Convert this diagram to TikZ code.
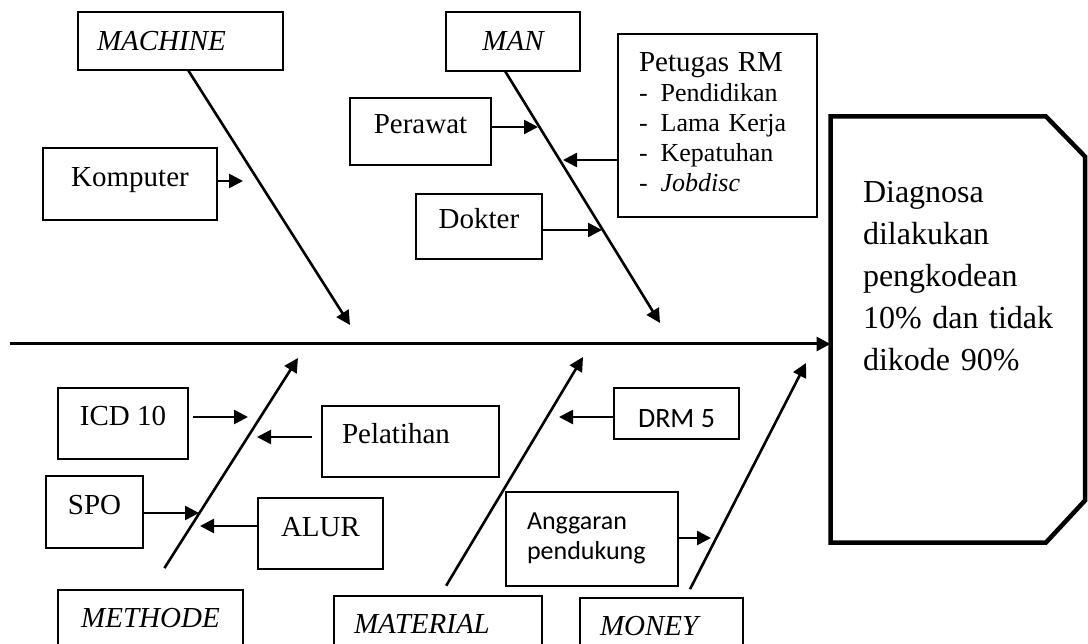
\documentclass[tikz,border=0pt]{standalone}
\usepackage{fontspec}
\setmainfont{Liberation Serif}
\newfontfamily\calibri{Carlito}
\usetikzlibrary{arrows.meta}
\tikzset{
    box/.style={
        rectangle,
        draw=black,
        line width=1.4pt,
        outer sep=0pt,
        inner ysep=3pt,
        anchor=north west,
        font=\fontsize{29}{33}\selectfont,
        text height=19pt,
        text depth=14pt
    },
    catbox/.style={
        box,
        font=\fontsize{29}{33}\selectfont\itshape
    },
    arrow/.style={
        -{Triangle[length=14pt,width=14pt]},
        line width=2.6pt
    },
    bone/.style={
        arrow,
        line width=2.6pt
    },
    spine/.style={
        arrow,
        line width=3pt
    }
}

\begin{document}
\begin{tikzpicture}[x=1pt,y=-1pt]
  \useasboundingbox (0,0) rectangle (1088,644);
  \clip (0,0) rectangle (1088,644);

  \node[rectangle, outer sep=0pt, anchor=north west, minimum width=254.5pt, minimum height=426pt, text width=189.5pt, inner xsep=32.5pt, inner ysep=0pt, align=left, font=\fontsize{32}{42}\selectfont, text height=22pt, text depth=275pt] (diag) at (830.5,116.5) {Diagnosa\\dilakukan\\pengkodean\\10\%~dan~tidak\\dikode~90\%};
  \draw[line width=4.5pt] (diag.north west) -- ([xshift=-39pt]diag.north east) -- ([yshift=-40pt]diag.north east) -- ([yshift=42pt]diag.south east) -- ([xshift=-39pt]diag.south east) -- (diag.south west) -- cycle;

  \node[catbox, minimum width=205pt, minimum height=58pt, text width=167pt, inner xsep=19pt, align=left, text depth=0pt] (machine) at (78,12) {MACHINE};
  \node[catbox, minimum width=134pt, minimum height=59pt, text depth=0pt] (man) at (446,12) {MAN};
  \node[catbox, minimum width=185pt, minimum height=70pt] (methode) at (58,590) {METHODE};
  \node[catbox, minimum width=208pt, minimum height=70pt, text width=168pt, inner xsep=20pt, align=left] (material) at (334,596) {MATERIAL};
  \node[catbox, minimum width=163pt, minimum height=70pt, text width=123pt, inner xsep=20pt, align=left] (money) at (580,598) {MONEY};

  \node[box, minimum width=174pt, minimum height=72pt] (komputer) at (43,148) {Komputer};
  \node[box, minimum width=141pt, minimum height=67pt] (perawat) at (350,98) {Perawat};
  \node[box, minimum width=126pt, minimum height=65pt] (dokter) at (416,194) {Dokter};
  \node[box, text width=157pt, inner xsep=21pt, minimum height=183pt, align=left, font=\fontsize{26}{30}\selectfont, text height=20pt, text depth=127pt] (petugas) at (618,34) {{\fontsize{29}{30}\selectfont Petugas RM}\\-\enspace Pendidikan\\-\enspace Lama Kerja\\-\enspace Kepatuhan\\-\enspace\textit{Jobdisc}};
  \node[box, minimum width=130pt, minimum height=71pt] (icd) at (58,388) {ICD 10};
  \node[box, minimum width=177pt, minimum height=71pt, text width=137pt, inner xsep=20pt, align=left] (pelatihan) at (322,406) {Pelatihan};
  \node[box, minimum width=97pt, minimum height=72pt] (spo) at (46,476) {SPO};
  \node[box, minimum width=125pt, minimum height=71pt] (alur) at (258,498) {ALUR};
  \node[box, minimum width=125pt, minimum height=51pt, font=\calibri\fontsize{28}{32}\selectfont, text height=29pt, text depth=0pt] (drm) at (614,388) {DRM 5};
  \node[box, text width=130pt, inner xsep=21pt, minimum height=94pt, align=left, font=\calibri\fontsize{26}{31}\selectfont, text height=18pt, text depth=38pt] (anggaran) at (506,492) {Anggaran\\pendukung};

  \coordinate (tail) at (10,344);
  \coordinate (machtip) at (350,325);
  \coordinate (mantip) at (660,323);
  \coordinate (methtip) at (298,358);
  \coordinate (mattip) at (583,357);
  \coordinate (montip) at (806,363);
  \coordinate (ak) at (243,181);
  \coordinate (aper) at (538,127);
  \coordinate (apet) at (563,160);
  \coordinate (adok) at (602,230);
  \coordinate (aicd) at (248,417);
  \coordinate (apel) at (257,437);
  \coordinate (aspo) at (199,513);
  \coordinate (aalu) at (200,526);
  \coordinate (adrm) at (559,417);
  \coordinate (aang) at (711,538);

  \draw[spine] (tail) -- (tail -| diag.west);
  \draw[bone] ([xshift=7.5pt]machine.south) -- (machtip);
  \draw[bone] ([xshift=-8pt]man.south) -- (mantip);
  \draw[bone, shorten <=26pt] (methode.north) -- (methtip);
  \draw[bone, shorten <=12pt] ([xshift=2pt]material.north) -- (mattip);
  \draw[bone, shorten <=10pt] ([xshift=24pt]money.north) -- (montip);

  \draw[arrow] (komputer.east |- ak) -- (ak);
  \draw[arrow] (perawat.east |- aper) -- (aper);
  \draw[arrow] (petugas.west |- apet) -- (apet);
  \draw[arrow] (dokter.east |- adok) -- (adok);
  \draw[arrow, shorten <=5pt] (icd.east |- aicd) -- (aicd);
  \draw[arrow, shorten <=10pt] (pelatihan.west |- apel) -- (apel);
  \draw[arrow] (spo.east |- aspo) -- (aspo);
  \draw[arrow] (alur.west |- aalu) -- (aalu);
  \draw[arrow] (drm.west |- adrm) -- (adrm);
  \draw[arrow] (anggaran.east |- aang) -- (aang);
\end{tikzpicture}
\end{document}
